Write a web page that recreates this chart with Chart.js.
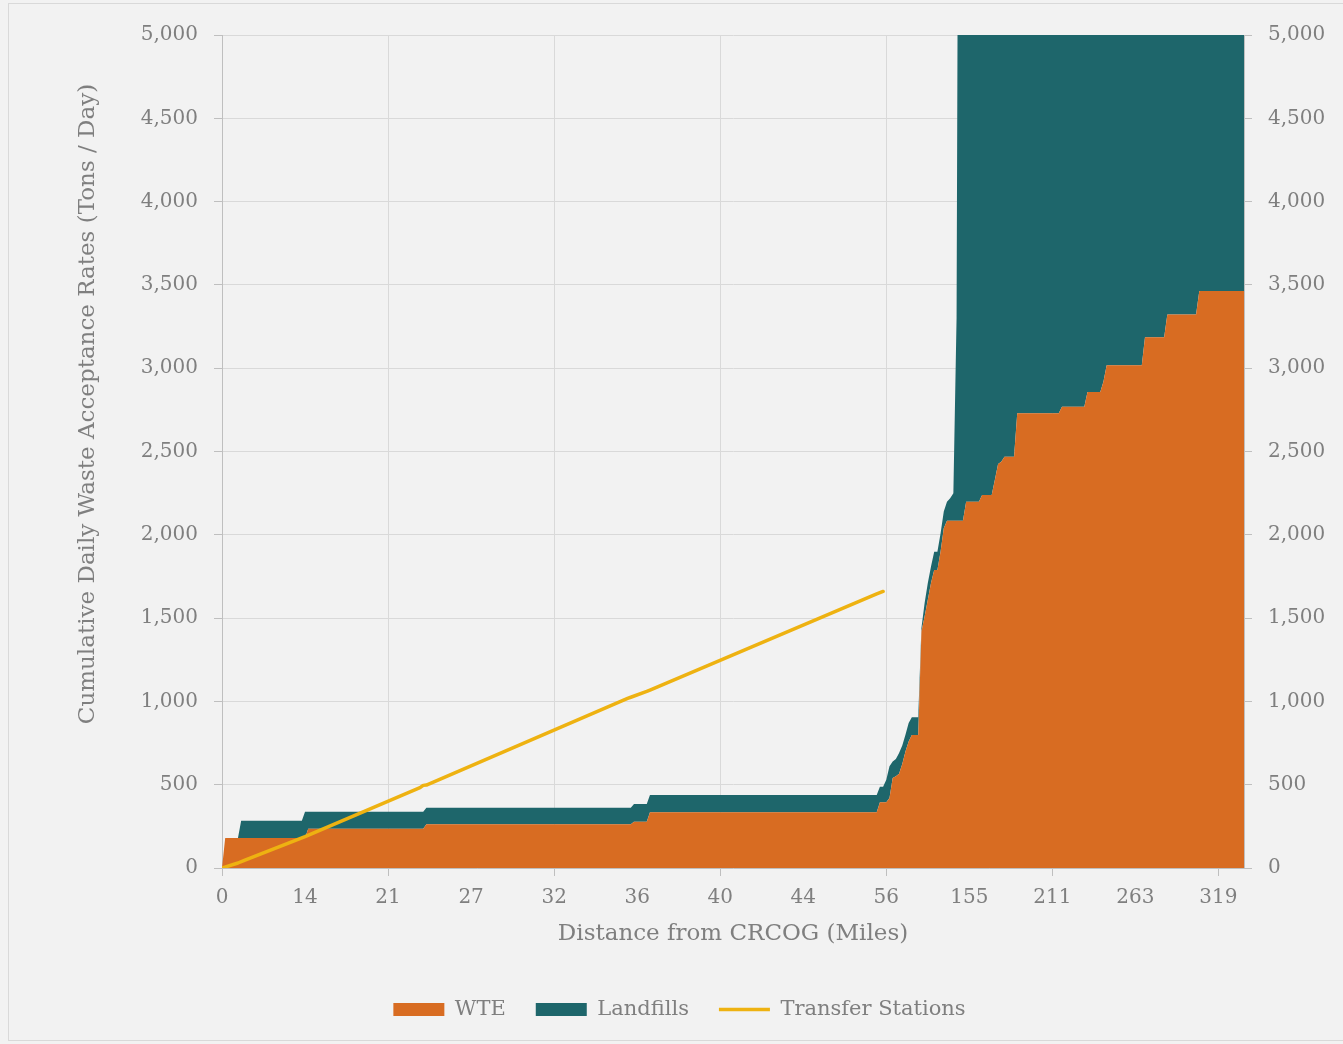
<!DOCTYPE html>
<html>
<head>
<meta charset="utf-8">
<script src="https://cdn.jsdelivr.net/npm/chart.js@4.4.1/dist/chart.umd.min.js"></script>
<style>
  html, body { margin: 0; padding: 0; background: #f2f2f2; overflow: hidden; }
  #marco { position: absolute; left: 8px; top: 3px; width: 1340px; height: 1036px; border: 1px solid #d9d9d9; }
  #contenedor { position: absolute; left: 0; top: 0; width: 1343px; height: 1044px; }
</style>
</head>
<body>
<div id="marco"></div>
<div id="contenedor"><canvas id="grafica" width="1343" height="1044"></canvas></div>
<script>
// posiciones (orden de instalaciones por distancia) donde cambia el acumulado
const indicesEscalon = [0, 1, 5, 6, 25, 26, 27, 63, 64, 128,
  129, 133, 134, 205, 206, 207, 208, 209, 210, 211,
  212, 213, 214, 215, 216, 218, 219, 220, 221, 222,
  223, 224, 225, 226, 227, 228, 229, 230, 231, 232,
  233, 237, 238, 241, 242, 243, 244, 245, 248, 249,
  262, 263, 270, 271, 275, 276, 277, 288, 289, 295,
  296, 305, 306, 320];

const wte = [0, 180, 180, 180, 180, 180, 235, 235, 262, 262,
  278, 278, 334, 334, 395, 395, 395, 420, 540, 550,
  565, 625, 700, 760, 798, 798, 1420, 1510, 1610, 1710,
  1789, 1789, 1900, 2040, 2085, 2085, 2085, 2085, 2085, 2085,
  2199, 2199, 2239, 2239, 2330, 2425, 2439, 2469, 2469, 2729,
  2729, 2769, 2769, 2857, 2857, 2920, 3018, 3018, 3186, 3186,
  3322, 3322, 3463, 3463];

const rellenos = [0, 0, 0, 104, 104, 158, 103, 103, 100, 100,
  106, 106, 104, 104, 93, 93, 135, 190, 100, 105,
  125, 110, 100, 110, 107, 107, 20, 80, 100, 100,
  110, 110, 110, 100, 114, 135, 165, 1215, 6900, 6900,
  6900, 6900, 6950, 6950, 6970, 6980, 6980, 7030, 7030, 7070,
  7070, 7130, 7130, 7140, 7140, 7180, 7180, 7180, 7210, 7210,
  7280, 7280, 7340, 7340];

const indicesTransferencia = [0, 5, 7, 26, 62, 63, 64, 127, 128, 133, 134, 205, 207];
const transferencia = [0, 30, 46, 188, 482, 496, 498, 1018, 1025, 1060, 1068, 1645, 1660];

const posicionesEtiquetas = [0, 26, 52, 78, 104, 130, 156, 182, 208, 234, 260, 286, 312];
const etiquetasDistancia = ["0", "14", "21", "27", "32", "36", "40", "44", "56", "155", "211", "263", "319"];

function unirPuntos(xs, ys) {
  return xs.map((x, i) => ({ x: x, y: ys[i] }));
}

const fuente = "'DejaVu Serif', Georgia, serif";
const gris = "#7f7f7f";
const lineaEje = "#bfbfbf";
const lineaGrid = "#d9d9d9";

const ctx = document.getElementById("grafica").getContext("2d");

new Chart(ctx, {
  type: "line",
  data: {
    datasets: [
      {
        label: "WTE",
        data: unirPuntos(indicesEscalon, wte),
        backgroundColor: "#D86C22",
        borderColor: "#D86C22",
        borderWidth: 0,
        fill: "origin",
        stack: "residuos",
        order: 1,
        pointRadius: 0,
        pointStyle: "rect",
        tension: 0,
      },
      {
        label: "Landfills",
        data: unirPuntos(indicesEscalon, rellenos),
        backgroundColor: "#1E666B",
        borderColor: "#1E666B",
        borderWidth: 0,
        fill: "-1",
        stack: "residuos",
        order: 2,
        pointRadius: 0,
        pointStyle: "rect",
        tension: 0,
      },
      {
        label: "Transfer Stations",
        data: unirPuntos(indicesTransferencia, transferencia),
        backgroundColor: "#EEB211",
        borderColor: "#EEB211",
        borderWidth: 3.5,
        borderCapStyle: "round",
        borderJoinStyle: "round",
        fill: false,
        stack: "transferencia",
        order: 0,
        pointRadius: 0,
        pointStyle: "line",
        tension: 0,
      },
    ],
  },
  options: {
    responsive: false,
    animation: false,
    layout: { padding: { top: 35, left: 16, right: 0, bottom: 14 } },
    plugins: {
      legend: {
        position: "bottom",
        maxHeight: 75,
        labels: {
          usePointStyle: true,
          pointStyleWidth: 51,
          boxHeight: 13,
          padding: 30,
          color: gris,
          font: { family: fuente, size: 21 },
          sort: (a, b) => a.datasetIndex - b.datasetIndex,
        },
      },
      tooltip: { enabled: false },
    },
    scales: {
      x: {
        type: "linear",
        min: 0,
        max: 320,
        afterBuildTicks: eje => {
          eje.ticks = posicionesEtiquetas.map(v => ({ value: v }));
        },
        afterFit: eje => {
          eje.height = 101;
        },
        ticks: {
          autoSkip: false,
          maxRotation: 0,
          padding: 10,
          color: gris,
          font: { family: fuente, size: 20 },
          callback: (v, i) => etiquetasDistancia[i],
        },
        grid: {
          color: c => (c.index % 2 === 0 ? lineaGrid : "rgba(0,0,0,0)"),
          tickColor: c => (c.index % 2 === 0 ? lineaEje : "rgba(0,0,0,0)"),
          tickLength: 8,
        },
        border: { color: lineaEje },
        title: {
          display: true,
          text: "Distance from CRCOG (Miles)",
          color: gris,
          font: { family: fuente, size: 23 },
          padding: { top: 0, bottom: 21 },
        },
      },
      y: {
        stacked: true,
        min: 0,
        max: 5000,
        afterFit: eje => {
          eje.width = 206;
        },
        ticks: {
          stepSize: 500,
          padding: 16,
          color: gris,
          font: { family: fuente, size: 20 },
          callback: v => v.toLocaleString("en-US"),
        },
        grid: { color: lineaGrid, tickColor: lineaEje, tickLength: 8 },
        border: { color: lineaEje },
        title: {
          display: true,
          // espacios al inicio para subir el texto como en el original
          text: "             Cumulative Daily Waste Acceptance Rates (Tons / Day)",
          color: gris,
          font: { family: fuente, size: 23 },
          padding: { top: 58, bottom: 0 },
        },
      },
      y2: {
        position: "right",
        min: 0,
        max: 5000,
        afterFit: eje => {
          eje.width = 99;
        },
        ticks: {
          stepSize: 500,
          padding: 16,
          color: gris,
          font: { family: fuente, size: 20 },
          callback: v => v.toLocaleString("en-US"),
        },
        grid: { drawOnChartArea: false, tickColor: lineaEje, tickLength: 8 },
        border: { color: lineaEje },
      },
    },
  },
});
</script>
</body>
</html>
